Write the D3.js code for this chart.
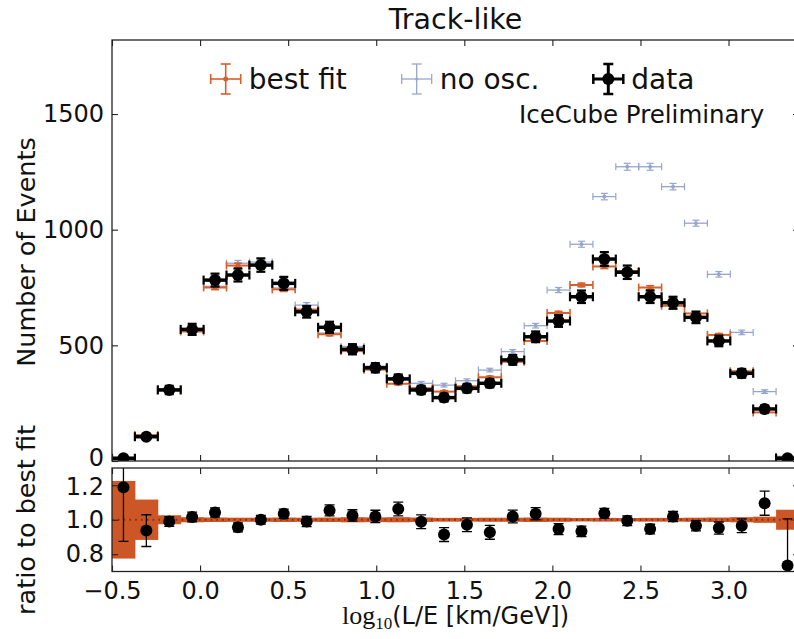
<!DOCTYPE html>
<html><head><meta charset="utf-8">
<script src="https://cdn.jsdelivr.net/npm/d3@7"></script>
<style>
html,body{margin:0;padding:0;background:#fff;}
svg{display:block;}
text{font-family:"DejaVu Sans",sans-serif;fill:#111;}
</style></head><body>
<svg id="c" width="794" height="639"></svg>
<script>
// ---------- data ----------
const binCenters=[-0.435,-0.305,-0.175,-0.045,0.085,0.215,0.345,0.475,0.605,0.735,0.865,0.995,1.125,1.255,1.385,1.515,1.645,1.775,1.905,2.035,2.165,2.295,2.425,2.555,2.685,2.815,2.945,3.075,3.205,3.335];
const binHalfWidth=0.065;
const dataCounts=[12,105,307,569,782,804,847,768,645,578,483,403,355,307,274,314,336,437,537,605,710,873,816,710,684,621,519,379,225,12];
const dataErr=[4,10,18,24,28,28,29,28,25,24,22,20,19,18,17,18,18,21,23,25,27,30,29,27,26,25,23,19,15,4];
const bestFit=[10,112,310,560,750,845,847,742,655,548,475,395,334,315,300,323,362,429,519,640,761,841,821,750,671,638,545,388,210,16];
const bestFitErr=[2,4,6,8,9,10,10,9,8,7,6,5,5,4,4,4,5,5,6,7,8,9,9,8,8,7,6,5,4,2];
const noOsc=[12,110,312,565,755,855,860,748,674,553,495,410,350,336,328,347,393,473,585,739,937,1143,1272,1272,1186,1028,807,556,300,20];
const noOscErr=[2,5,8,10,12,12,12,12,11,10,9,8,8,8,8,8,8,9,10,11,13,14,15,15,14,13,12,10,8,2];
const ratio=[1.188,0.937,0.99,1.016,1.042,0.956,1.0,1.035,0.99,1.054,1.025,1.019,1.062,0.988,0.914,0.971,0.927,1.019,1.035,0.946,0.933,1.038,0.994,0.946,1.019,0.965,0.952,0.965,1.096,0.735];
const ratioErr=[0.313,0.092,0.028,0.028,0.027,0.026,0.025,0.027,0.03,0.032,0.033,0.036,0.04,0.04,0.04,0.04,0.04,0.037,0.035,0.032,0.03,0.028,0.028,0.028,0.03,0.03,0.035,0.04,0.07,0.27];
const bandErr=[0.225,0.117,0.026,0.015,0.013,0.012,0.012,0.013,0.012,0.013,0.015,0.014,0.015,0.013,0.011,0.011,0.012,0.012,0.013,0.012,0.010,0.011,0.010,0.011,0.011,0.012,0.013,0.015,0.018,0.058];
const xTicks=[-0.5,0.0,0.5,1.0,1.5,2.0,2.5,3.0];
const yTicks=[0,500,1000,1500];
const rTicks=[0.8,1.0,1.2];
const legendLabels=["best fit","no osc.","data"];
const titleText="Track-like";
const prelimText="IceCube Preliminary";

// ---------- styles ----------
const ORANGE="#d3602d", BAND="#cc5625", BLUE="#98a5cd", DOT="#8a2a0c";

const x=d3.scaleLinear().domain([-0.5,3.4]).range([112,799]);
const yTop=d3.scaleLinear().domain([0,1820]).range([461,40]);
const yR=d3.scaleLinear().domain([0.7,1.3]).range([571.5,468]);

const svg=d3.select('#c');
const defs=svg.append('defs');
defs.append('clipPath').attr('id','clipTop').append('rect').attr('x',112).attr('y',40).attr('width',687).attr('height',421);
defs.append('clipPath').attr('id','clipR').append('rect').attr('x',112).attr('y',468).attr('width',687).attr('height',103.5);

function errbar(g, cx, cy, x0, x1, y0, y1, st){
  const c=st.color;
  if(x0!==null){
    g.append('line').attr('x1',x0).attr('x2',x1).attr('y1',cy).attr('y2',cy).attr('stroke',c).attr('stroke-width',st.hw);
    [x0,x1].forEach(xx=>g.append('line').attr('x1',xx).attr('x2',xx).attr('y1',cy-st.cap).attr('y2',cy+st.cap).attr('stroke',c).attr('stroke-width',st.cw));
  }
  g.append('line').attr('x1',cx).attr('x2',cx).attr('y1',y0).attr('y2',y1).attr('stroke',c).attr('stroke-width',st.vw);
  [y0,y1].forEach(yy=>g.append('line').attr('x1',cx-st.cap).attr('x2',cx+st.cap).attr('y1',yy).attr('y2',yy).attr('stroke',c).attr('stroke-width',st.cw));
  if(st.r>0) g.append('circle').attr('cx',cx).attr('cy',cy).attr('r',st.r).attr('fill',c);
}
const stBlue={color:BLUE,hw:1.3,vw:1.2,cw:1.2,cap:3.5,r:2};
const stOrange={color:ORANGE,hw:2,vw:1.6,cw:1.6,cap:4,r:2.5};
const stBlack={color:"#000",hw:3.5,vw:2.5,cw:2.2,cap:4.5,r:6};

// ---------- top panel ----------
const gTop=svg.append('g').attr('clip-path','url(#clipTop)');
function drawSeries(vals, errs, st){
  const g=gTop.append('g');
  binCenters.forEach((c,i)=>{
    errbar(g, x(c), yTop(vals[i]), x(c-binHalfWidth), x(c+binHalfWidth), yTop(vals[i]+errs[i]), yTop(Math.max(0,vals[i]-errs[i])), st);
  });
}
drawSeries(noOsc,noOscErr,stBlue);
drawSeries(bestFit,bestFitErr,stOrange);
drawSeries(dataCounts,dataErr,stBlack);

// ---------- ratio panel ----------
const gR=svg.append('g').attr('clip-path','url(#clipR)');
gR.selectAll('rect.band').data(binCenters).join('rect').attr('class','band')
  .attr('x',(c)=>x(c-binHalfWidth)).attr('width',(c)=>x(c+binHalfWidth)-x(c-binHalfWidth)+0.5)
  .attr('y',(c,i)=>yR(1+bandErr[i])).attr('height',(c,i)=>yR(1-bandErr[i])-yR(1+bandErr[i]))
  .attr('fill',BAND);
gR.append('line').attr('x1',112).attr('x2',799).attr('y1',yR(1)).attr('y2',yR(1))
  .attr('stroke',DOT).attr('stroke-width',1.8).attr('stroke-dasharray','1.6,4.2');
const stRatio={color:"#000",hw:0,vw:1.3,cw:1.3,cap:5,r:6};
binCenters.forEach((c,i)=>{
  const g=gR.append('g');
  errbar(g, x(c), yR(ratio[i]), null, null, yR(ratio[i]+ratioErr[i]), yR(ratio[i]-ratioErr[i]), stRatio);
});

// ---------- axes ----------
function inward(axisGen, tr){
  const g=svg.append('g').attr('transform',tr).call(axisGen);
  g.select('.domain').remove();
  g.selectAll('.tick line').attr('stroke','#222').attr('stroke-width',1.1);
  return g;
}
const noLab=()=>"";
const TICKFS='24px';
inward(d3.axisTop(x).tickValues(xTicks).tickSizeInner(-6).tickSizeOuter(0).tickFormat(noLab),'translate(0,40)');
inward(d3.axisBottom(x).tickValues(xTicks).tickSizeInner(-6).tickSizeOuter(0).tickFormat(noLab),'translate(0,461)');
inward(d3.axisRight(yTop).tickValues(yTicks).tickSizeInner(-6).tickSizeOuter(0).tickFormat(noLab),'translate(799,0)');
const gyl=inward(d3.axisLeft(yTop).tickValues(yTicks).tickSizeInner(-6).tickSizeOuter(0).tickPadding(8).tickFormat(d3.format('d')),'translate(112,0)');
gyl.selectAll('text').style('font-size',TICKFS).attr('fill','#111');
gyl.selectAll('.tick').filter(d=>d===0).select('text').attr('dy','0.2em');
inward(d3.axisTop(x).tickValues(xTicks).tickSizeInner(-6).tickSizeOuter(0).tickFormat(noLab),'translate(0,468)');
const gxb=inward(d3.axisBottom(x).tickValues(xTicks).tickSizeInner(-6).tickSizeOuter(0).tickPadding(10).tickFormat(d3.format('.1f')),'translate(0,571.5)');
gxb.selectAll('text').style('font-size',TICKFS).attr('fill','#111');
inward(d3.axisRight(yR).tickValues(rTicks).tickSizeInner(-6).tickSizeOuter(0).tickFormat(noLab),'translate(799,0)');
const gry=inward(d3.axisLeft(yR).tickValues(rTicks).tickSizeInner(-6).tickSizeOuter(0).tickPadding(8).tickFormat(d3.format('.1f')),'translate(112,0)');
gry.selectAll('text').style('font-size',TICKFS).attr('fill','#111');
gry.selectAll('.tick').filter(d=>d===1.2).select('text').attr('dy','0.4em');
svg.selectAll('.tick text').style('font-family','"DejaVu Sans",sans-serif');

// spines
svg.append('rect').attr('x',112).attr('y',40).attr('width',687).attr('height',421).attr('fill','none').attr('stroke','#222').attr('stroke-width',1.3);
svg.append('rect').attr('x',112).attr('y',468).attr('width',687).attr('height',103.5).attr('fill','none').attr('stroke','#222').attr('stroke-width',1.3);

// ---------- texts ----------
svg.append('text').attr('x',455.5).attr('y',29).attr('text-anchor','middle').style('font-size','28.5px').text(titleText);
svg.append('text').attr('x',519).attr('y',123).style('font-size','24.5px').text(prelimText);
svg.append('text').attr('transform','translate(35,252) rotate(-90)').attr('text-anchor','middle').style('font-size','25.5px').text('Number of Events');
svg.append('text').attr('transform','translate(35,520) rotate(-90)').attr('text-anchor','middle').style('font-size','25.5px').text('ratio to best fit');
const xl=svg.append('text').attr('x',455.5).attr('y',624).attr('text-anchor','middle');
xl.append('tspan').style('font-family','"Liberation Serif",serif').style('font-size','26px').text('log');
xl.append('tspan').style('font-family','"Liberation Serif",serif').style('font-size','17px').attr('dy',5).text('10');
xl.append('tspan').style('font-size','24px').attr('dy',-5).text('(L/E [km/GeV])');

// ---------- legend ----------
const legendX=[225.7,416.7,608.3];
const legendStyles=[
  {color:ORANGE,hw:1.6,vw:1.6,cw:1.6,cap:5,r:2.5},
  {color:BLUE,hw:1.3,vw:1.3,cw:1.3,cap:5,r:1.5},
  {color:"#000",hw:3,vw:3,cw:2.5,cap:5,r:6}];
const gl=svg.append('g');
legendLabels.forEach((lab,i)=>{
  const cx=legendX[i], cy=79;
  errbar(gl, cx, cy, cx-15, cx+15, cy-15, cy+15, legendStyles[i]);
  gl.append('text').attr('x',cx+23).attr('y',88.5).style('font-size','28px').text(lab);
});
</script>
</body></html>
